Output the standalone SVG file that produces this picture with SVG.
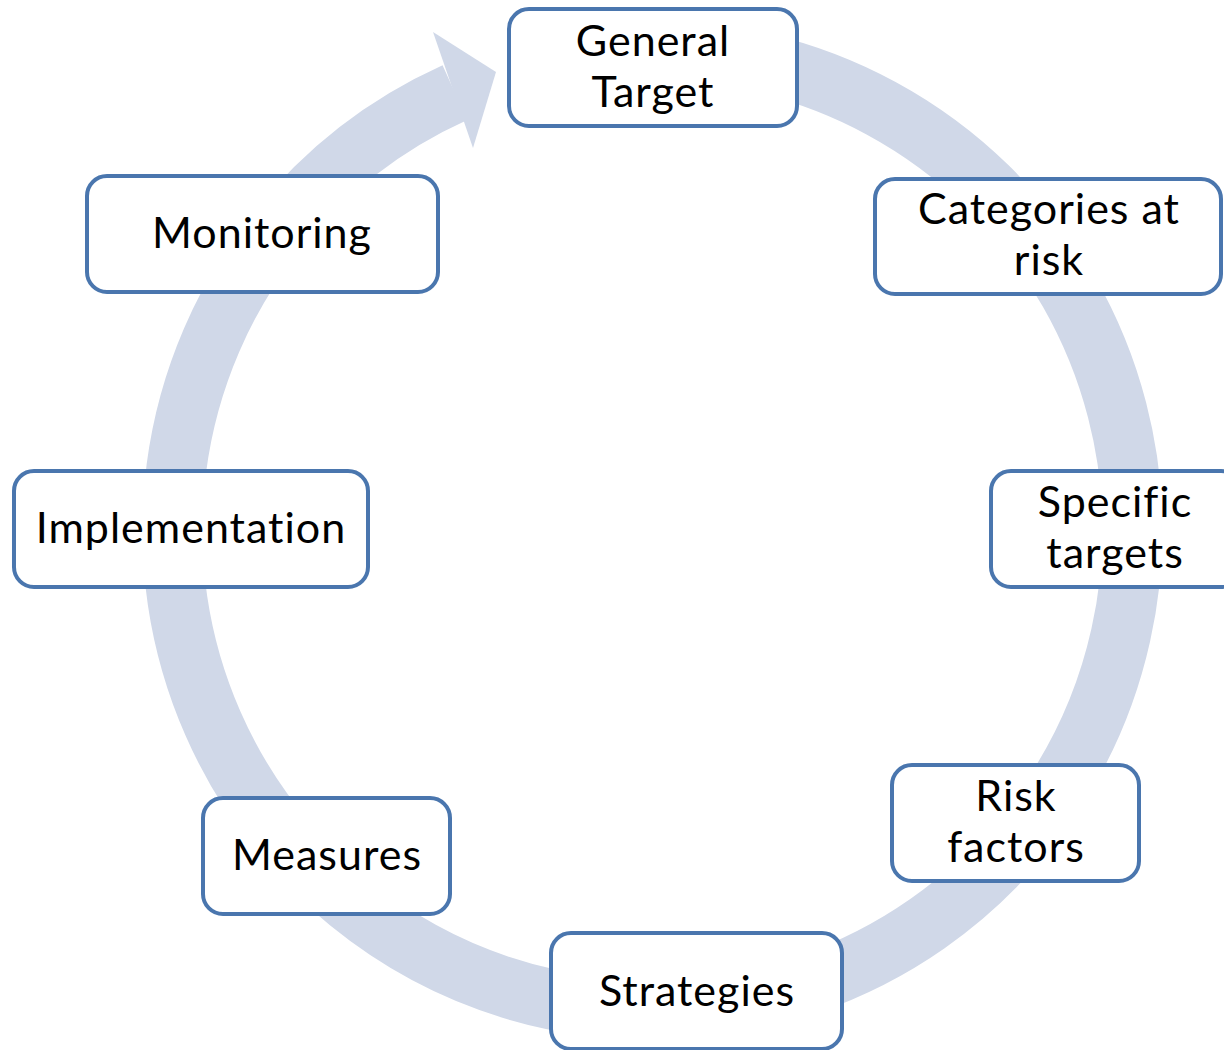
<svg xmlns="http://www.w3.org/2000/svg" width="1224" height="1050" viewBox="0 0 1224 1050">
  <style>
    .box { fill: #ffffff; stroke: #4A76AE; stroke-width: 4; }
    .label { font-family: Lato, "Liberation Sans", sans-serif; font-size: 43px; letter-spacing: 1px; font-variant-ligatures: none; fill: #000000; text-anchor: middle; }
    .ring { fill: none; stroke: #D0D8E8; stroke-width: 60; }
    .head { fill: #D0D8E8; }
  </style>
  <rect width="1224" height="1050" fill="#ffffff"/>

  <!-- circular flow arrow, centre (653,530), mid radius 480 -->
  <g id="connectors">
    <path class="ring" d="M 536.9 64.3 A 480 480 0 1 1 454.9 92.7"/>
    <polygon class="head" points="433,32 496,72 473,148"/>
  </g>

  <g id="general-target">
    <rect class="box" x="509" y="9" width="288" height="117" rx="20"/>
    <text class="label" x="653" y="56">General</text>
    <text class="label" x="653" y="107">Target</text>
  </g>

  <g id="categories-at-risk">
    <rect class="box" x="875" y="179" width="346" height="115" rx="20"/>
    <text class="label" x="1049" y="224">Categories at</text>
    <text class="label" x="1049" y="275">risk</text>
  </g>

  <g id="specific-targets">
    <rect class="box" x="991" y="471" width="250" height="116" rx="20"/>
    <text class="label" x="1115" y="517">Specific</text>
    <text class="label" x="1115" y="568">targets</text>
  </g>

  <g id="risk-factors">
    <rect class="box" x="892" y="765" width="247" height="116" rx="20"/>
    <text class="label" x="1016" y="811">Risk</text>
    <text class="label" x="1016" y="862">factors</text>
  </g>

  <g id="strategies">
    <rect class="box" x="551" y="933" width="291" height="116" rx="20"/>
    <text class="label" x="697" y="1006">Strategies</text>
  </g>

  <g id="measures">
    <rect class="box" x="203" y="798" width="247" height="116" rx="20"/>
    <text class="label" x="327" y="870">Measures</text>
  </g>

  <g id="implementation">
    <rect class="box" x="14" y="471" width="354" height="116" rx="20"/>
    <text class="label" x="191" y="543">Implementation</text>
  </g>

  <g id="monitoring">
    <rect class="box" x="87" y="176" width="351" height="116" rx="20"/>
    <text class="label" x="262" y="248">Monitoring</text>
  </g>
</svg>
